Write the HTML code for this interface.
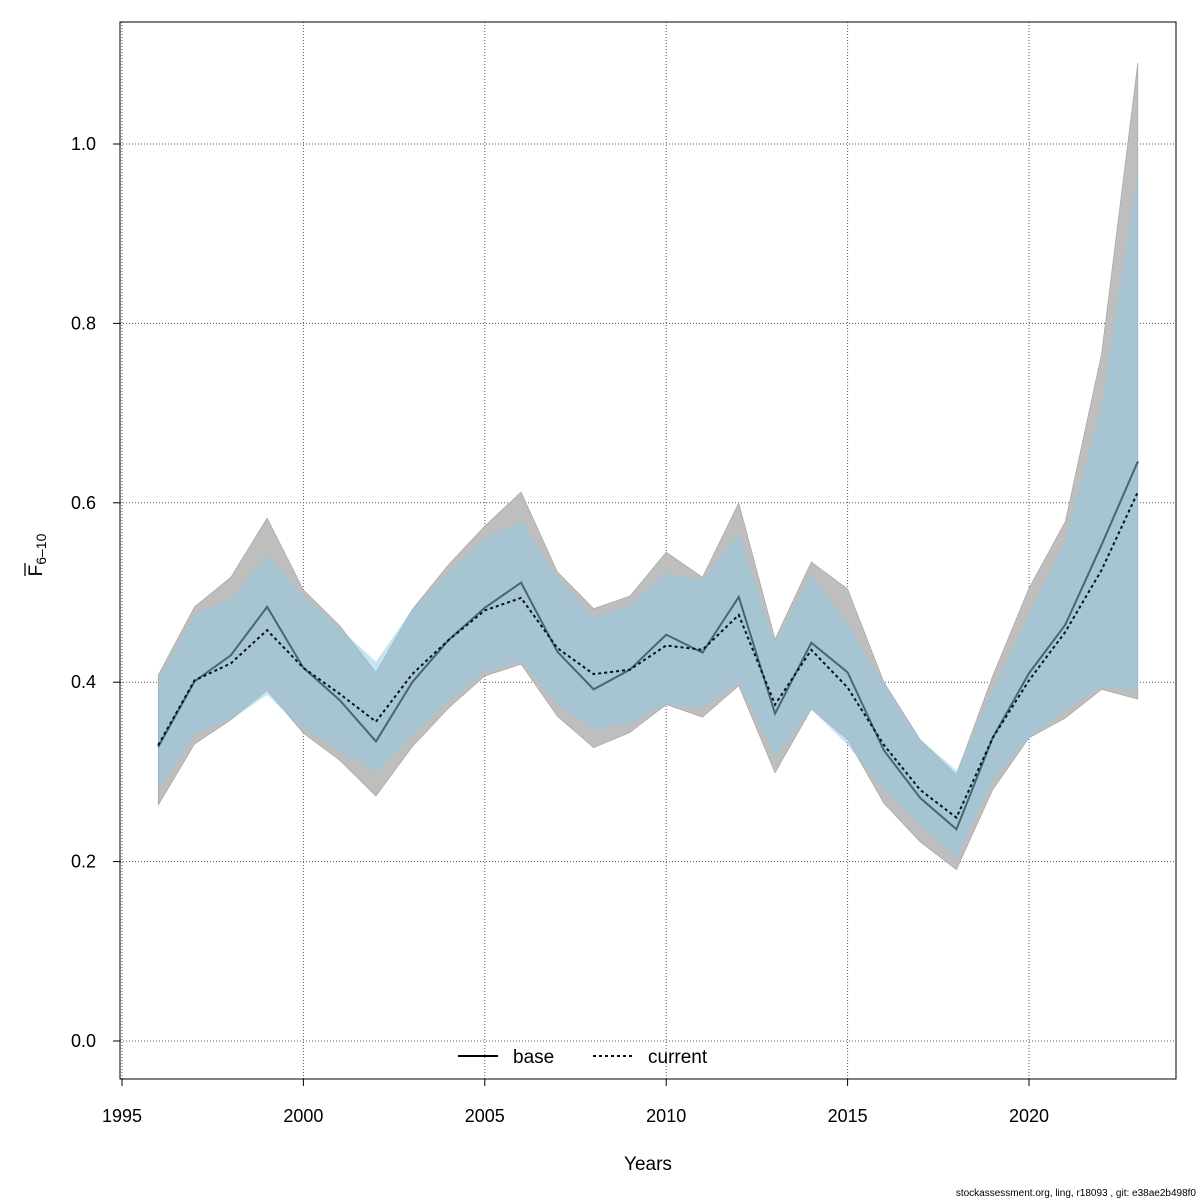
<!DOCTYPE html>
<html><head><meta charset="utf-8"><style>
body{margin:0;background:#fff;font-family:"Liberation Sans",Arial,sans-serif}
svg{display:block}
</style></head><body>
<svg id="chart" width="1200" height="1200" xmlns="http://www.w3.org/2000/svg" font-family="Liberation Sans, Arial, sans-serif"></svg>
<script>
const years=[1996,1997,1998,1999,2000,2001,2002,2003,2004,2005,2006,2007,2008,2009,2010,2011,2012,2013,2014,2015,2016,2017,2018,2019,2020,2021,2022,2023];
const baseVals=[0.328,0.401,0.430,0.484,0.416,0.380,0.334,0.400,0.447,0.483,0.511,0.434,0.392,0.414,0.453,0.433,0.495,0.365,0.444,0.411,0.324,0.271,0.236,0.338,0.410,0.464,0.553,0.646];
const baseUpper=[0.408,0.484,0.517,0.583,0.503,0.463,0.411,0.481,0.531,0.574,0.612,0.523,0.482,0.496,0.545,0.517,0.600,0.448,0.534,0.504,0.400,0.336,0.297,0.407,0.505,0.579,0.766,1.091];
const baseLower=[0.263,0.331,0.358,0.391,0.343,0.313,0.273,0.328,0.371,0.407,0.420,0.362,0.327,0.344,0.375,0.361,0.396,0.299,0.370,0.336,0.265,0.222,0.191,0.280,0.338,0.360,0.392,0.381];
const curVals=[0.330,0.402,0.421,0.458,0.416,0.387,0.356,0.409,0.447,0.480,0.494,0.438,0.409,0.414,0.441,0.436,0.475,0.375,0.436,0.394,0.330,0.280,0.249,0.338,0.402,0.456,0.525,0.612];
const curUpper=[0.402,0.477,0.492,0.542,0.496,0.460,0.423,0.481,0.523,0.561,0.580,0.517,0.473,0.486,0.522,0.514,0.566,0.444,0.521,0.466,0.397,0.336,0.302,0.391,0.475,0.559,0.709,0.967];
const curLower=[0.280,0.343,0.358,0.386,0.347,0.324,0.300,0.341,0.380,0.411,0.423,0.375,0.347,0.355,0.375,0.371,0.400,0.316,0.370,0.330,0.280,0.241,0.204,0.291,0.338,0.369,0.395,0.391];
const xTicks=[1995,2000,2005,2010,2015,2020];
const yTicks=[0.0,0.2,0.4,0.6,0.8,1.0];
const yTickLabels=["0.0","0.2","0.4","0.6","0.8","1.0"];

const X=v=>122+(v-1995)*(1029-122)/25;
const Y=v=>1041-v*(1041-144)/1;
const svg=document.getElementById('chart');
const NS="http://www.w3.org/2000/svg";
function mk(tag,attrs,parent){const e=document.createElementNS(NS,tag);for(const k in attrs)e.setAttribute(k,attrs[k]);(parent||svg).appendChild(e);return e;}
function bandPath(up,lo){let d="";years.forEach((y,i)=>{d+=(i?"L":"M")+X(y)+","+Y(up[i]);});for(let i=years.length-1;i>=0;i--)d+="L"+X(years[i])+","+Y(lo[i]);return d+"Z";}
function linePath(v){return years.map((y,i)=>(i?"L":"M")+X(y)+","+Y(v[i])).join("");}

// grid
xTicks.forEach(t=>{const g=mk('line',{x1:X(t),x2:X(t),y1:22,y2:1079,stroke:'#555','stroke-dasharray':'1,2','stroke-width':1});

});
yTicks.forEach(t=>{const g=mk('line',{x1:120,x2:1176,y1:Y(t),y2:Y(t),stroke:'#555','stroke-dasharray':'1,2','stroke-width':1});

});

const gb=mk('path',{d:bandPath(baseUpper,baseLower),fill:'#bebebe',stroke:'#a0a0a0','stroke-width':0.6});


const bl=mk('path',{d:linePath(baseVals),fill:'none',stroke:'#000','stroke-width':2});


const cb=mk('path',{d:bandPath(curUpper,curLower),fill:'rgb(141,201,229)','fill-opacity':0.5,stroke:'none'});


const cl=mk('path',{d:linePath(curVals),fill:'none',stroke:'#00111a','stroke-width':2,'stroke-dasharray':'3,3'});



// box
const box=mk('rect',{x:120,y:22,width:1056,height:1057,fill:'none',stroke:'#000','stroke-width':1});



// ticks & labels
xTicks.forEach(t=>{mk('line',{x1:X(t),x2:X(t),y1:1079,y2:1086,stroke:'#000'});
const tx=mk('text',{x:X(t),y:1122,'text-anchor':'middle','font-size':18});tx.textContent=t;

});
mk('line',{x1:X(1995),x2:X(2020),y1:1079,y2:1079,stroke:'#000'});
yTicks.forEach((t,i)=>{mk('line',{x1:113,x2:120,y1:Y(t),y2:Y(t),stroke:'#000'});
const tx=mk('text',{x:96,y:Y(t)+6,'text-anchor':'end','font-size':18});tx.textContent=yTickLabels[i];

});
</script>
<svg style="position:absolute;left:0;top:0" width="1200" height="1200">
<text x="648" y="1170" text-anchor="middle" font-size="19" font-family="Liberation Sans, sans-serif">Years</text>
<g transform="translate(42,555) rotate(-90)">
<text x="0" y="0" text-anchor="middle" font-size="19" font-family="Liberation Sans, sans-serif">F<tspan font-size="14" dy="4">6–10</tspan></text>
<line x1="-21" x2="-8" y1="-17" y2="-17" stroke="#000" stroke-width="1.3"/>
</g>
<g>
<line x1="458" x2="498" y1="1056" y2="1056" stroke="#000" stroke-width="2"/>
<text x="513" y="1063" font-size="19" font-family="Liberation Sans, sans-serif">base</text>
<line x1="593" x2="633" y1="1056" y2="1056" stroke="#00111a" stroke-width="2" stroke-dasharray="3,3"/>
<text x="648" y="1063" font-size="19" font-family="Liberation Sans, sans-serif">current</text>
</g>
<text x="1196" y="1196" text-anchor="end" font-size="10" font-family="Liberation Sans, sans-serif">stockassessment.org, ling, r18093 , git: e38ae2b498f0</text>
</svg>
</body></html>
